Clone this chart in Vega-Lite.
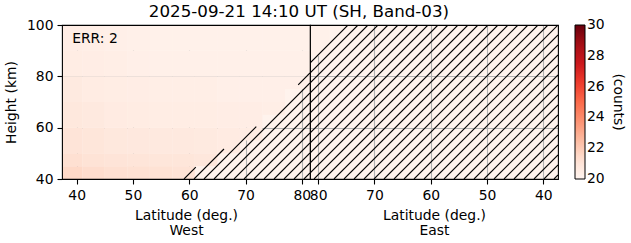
{
  "$schema": "https://vega.github.io/schema/vega-lite/v6.json",
  "padding": {"left": 3, "top": 3, "right": 12, "bottom": 0},
  "title": {"text": "2025-09-21 14:10 UT (SH, Band-03)", "fontSize": 16.7, "font": "DejaVu Sans", "fontWeight": "normal", "color": "black", "offset": -3, "anchor": "middle", "dx": -15.5},
  "datasets": {
    "cells": [
      {"side": "W", "lat1": 37, "lat2": 41, "h1": 40, "h2": 45, "v": 21.5},
      {"side": "W", "lat1": 41, "lat2": 45, "h1": 40, "h2": 45, "v": 21.35},
      {"side": "W", "lat1": 45, "lat2": 49, "h1": 40, "h2": 45, "v": 21.25},
      {"side": "W", "lat1": 49, "lat2": 53, "h1": 40, "h2": 45, "v": 21.2},
      {"side": "W", "lat1": 53, "lat2": 57, "h1": 40, "h2": 45, "v": 21.15},
      {"side": "W", "lat1": 57, "lat2": 61, "h1": 40, "h2": 45, "v": 21.1},
      {"side": "W", "lat1": 37, "lat2": 41, "h1": 45, "h2": 50, "v": 21.25},
      {"side": "W", "lat1": 41, "lat2": 45, "h1": 45, "h2": 50, "v": 21.1},
      {"side": "W", "lat1": 45, "lat2": 49, "h1": 45, "h2": 50, "v": 21.0},
      {"side": "W", "lat1": 49, "lat2": 53, "h1": 45, "h2": 50, "v": 20.95},
      {"side": "W", "lat1": 53, "lat2": 57, "h1": 45, "h2": 50, "v": 20.9},
      {"side": "W", "lat1": 57, "lat2": 61, "h1": 45, "h2": 50, "v": 20.9},
      {"side": "W", "lat1": 61, "lat2": 65, "h1": 45, "h2": 50, "v": 20.85},
      {"side": "W", "lat1": 37, "lat2": 41, "h1": 50, "h2": 60, "v": 21.0},
      {"side": "W", "lat1": 41, "lat2": 45, "h1": 50, "h2": 60, "v": 20.9},
      {"side": "W", "lat1": 45, "lat2": 49, "h1": 50, "h2": 60, "v": 20.8},
      {"side": "W", "lat1": 49, "lat2": 53, "h1": 50, "h2": 60, "v": 20.75},
      {"side": "W", "lat1": 53, "lat2": 57, "h1": 50, "h2": 60, "v": 20.7},
      {"side": "W", "lat1": 57, "lat2": 61, "h1": 50, "h2": 60, "v": 20.7},
      {"side": "W", "lat1": 61, "lat2": 65, "h1": 50, "h2": 60, "v": 20.65},
      {"side": "W", "lat1": 65, "lat2": 69, "h1": 50, "h2": 60, "v": 20.6},
      {"side": "W", "lat1": 69, "lat2": 73, "h1": 55, "h2": 60, "v": 20.55},
      {"side": "W", "lat1": 37, "lat2": 41, "h1": 60, "h2": 70, "v": 20.8},
      {"side": "W", "lat1": 41, "lat2": 45, "h1": 60, "h2": 70, "v": 20.7},
      {"side": "W", "lat1": 45, "lat2": 49, "h1": 60, "h2": 70, "v": 20.6},
      {"side": "W", "lat1": 49, "lat2": 53, "h1": 60, "h2": 70, "v": 20.55},
      {"side": "W", "lat1": 53, "lat2": 57, "h1": 60, "h2": 70, "v": 20.5},
      {"side": "W", "lat1": 57, "lat2": 61, "h1": 60, "h2": 70, "v": 20.5},
      {"side": "W", "lat1": 61, "lat2": 65, "h1": 60, "h2": 70, "v": 20.5},
      {"side": "W", "lat1": 65, "lat2": 69, "h1": 60, "h2": 70, "v": 20.45},
      {"side": "W", "lat1": 69, "lat2": 73, "h1": 60, "h2": 70, "v": 20.45},
      {"side": "W", "lat1": 73, "lat2": 77, "h1": 65, "h2": 70, "v": 20.4},
      {"side": "W", "lat1": 37, "lat2": 41, "h1": 70, "h2": 80, "v": 20.65},
      {"side": "W", "lat1": 41, "lat2": 45, "h1": 70, "h2": 80, "v": 20.55},
      {"side": "W", "lat1": 45, "lat2": 49, "h1": 70, "h2": 80, "v": 20.5},
      {"side": "W", "lat1": 49, "lat2": 53, "h1": 70, "h2": 80, "v": 20.45},
      {"side": "W", "lat1": 53, "lat2": 57, "h1": 70, "h2": 80, "v": 20.4},
      {"side": "W", "lat1": 57, "lat2": 61, "h1": 70, "h2": 80, "v": 20.4},
      {"side": "W", "lat1": 61, "lat2": 65, "h1": 70, "h2": 80, "v": 20.4},
      {"side": "W", "lat1": 65, "lat2": 69, "h1": 70, "h2": 80, "v": 20.35},
      {"side": "W", "lat1": 69, "lat2": 73, "h1": 70, "h2": 80, "v": 20.35},
      {"side": "W", "lat1": 73, "lat2": 77, "h1": 70, "h2": 80, "v": 20.35},
      {"side": "W", "lat1": 77, "lat2": 81.45, "h1": 75, "h2": 80, "v": 20.35},
      {"side": "W", "lat1": 37, "lat2": 41, "h1": 80, "h2": 90, "v": 20.5},
      {"side": "W", "lat1": 41, "lat2": 45, "h1": 80, "h2": 90, "v": 20.45},
      {"side": "W", "lat1": 45, "lat2": 49, "h1": 80, "h2": 90, "v": 20.4},
      {"side": "W", "lat1": 49, "lat2": 53, "h1": 80, "h2": 90, "v": 20.35},
      {"side": "W", "lat1": 53, "lat2": 57, "h1": 80, "h2": 90, "v": 20.3},
      {"side": "W", "lat1": 57, "lat2": 61, "h1": 80, "h2": 90, "v": 20.3},
      {"side": "W", "lat1": 61, "lat2": 65, "h1": 80, "h2": 90, "v": 20.3},
      {"side": "W", "lat1": 65, "lat2": 69, "h1": 80, "h2": 90, "v": 20.3},
      {"side": "W", "lat1": 69, "lat2": 73, "h1": 80, "h2": 90, "v": 20.3},
      {"side": "W", "lat1": 73, "lat2": 77, "h1": 80, "h2": 90, "v": 20.3},
      {"side": "W", "lat1": 77, "lat2": 81.45, "h1": 80, "h2": 90, "v": 20.3},
      {"side": "W", "lat1": 37, "lat2": 41, "h1": 90, "h2": 100, "v": 20.45},
      {"side": "W", "lat1": 41, "lat2": 45, "h1": 90, "h2": 100, "v": 20.4},
      {"side": "W", "lat1": 45, "lat2": 49, "h1": 90, "h2": 100, "v": 20.35},
      {"side": "W", "lat1": 49, "lat2": 53, "h1": 90, "h2": 100, "v": 20.3},
      {"side": "W", "lat1": 53, "lat2": 57, "h1": 90, "h2": 100, "v": 20.25},
      {"side": "W", "lat1": 57, "lat2": 61, "h1": 90, "h2": 100, "v": 20.25},
      {"side": "W", "lat1": 61, "lat2": 65, "h1": 90, "h2": 100, "v": 20.25},
      {"side": "W", "lat1": 65, "lat2": 69, "h1": 90, "h2": 100, "v": 20.25},
      {"side": "W", "lat1": 69, "lat2": 73, "h1": 90, "h2": 100, "v": 20.25},
      {"side": "W", "lat1": 73, "lat2": 77, "h1": 90, "h2": 100, "v": 20.25},
      {"side": "W", "lat1": 77, "lat2": 81.45, "h1": 90, "h2": 100, "v": 20.25},
      {"side": "E", "lat1": 81.45, "lat2": 78, "h1": 88, "h2": 100, "v": 20.25}
    ],
    "hatch": [
      {"side": "W", "lat1": 59.07, "h1": 40, "lat2": 61.17, "h2": 44.62},
      {"side": "W", "lat1": 60.85, "h1": 40, "lat2": 66.17, "h2": 51.69},
      {"side": "W", "lat1": 62.62, "h1": 40, "lat2": 71.91, "h2": 60.38},
      {"side": "W", "lat1": 79.35, "h1": 76.7, "lat2": 81.45, "h2": 81.3},
      {"side": "W", "lat1": 64.4, "h1": 40, "lat2": 81.45, "h2": 77.4},
      {"side": "W", "lat1": 66.17, "h1": 40, "lat2": 81.45, "h2": 73.51},
      {"side": "W", "lat1": 67.95, "h1": 40, "lat2": 81.45, "h2": 69.61},
      {"side": "W", "lat1": 69.73, "h1": 40, "lat2": 81.45, "h2": 65.71},
      {"side": "W", "lat1": 71.5, "h1": 40, "lat2": 81.45, "h2": 61.82},
      {"side": "W", "lat1": 73.28, "h1": 40, "lat2": 81.45, "h2": 57.92},
      {"side": "W", "lat1": 75.06, "h1": 40, "lat2": 81.45, "h2": 54.03},
      {"side": "W", "lat1": 76.83, "h1": 40, "lat2": 81.45, "h2": 50.13},
      {"side": "W", "lat1": 78.61, "h1": 40, "lat2": 81.45, "h2": 46.23},
      {"side": "W", "lat1": 80.38, "h1": 40, "lat2": 81.45, "h2": 42.34},
      {"side": "E", "lat1": 81.45, "h1": 85.19, "lat2": 74.7, "h2": 100},
      {"side": "E", "lat1": 81.45, "h1": 81.3, "lat2": 72.92, "h2": 100},
      {"side": "E", "lat1": 81.45, "h1": 77.4, "lat2": 71.15, "h2": 100},
      {"side": "E", "lat1": 81.45, "h1": 73.51, "lat2": 69.37, "h2": 100},
      {"side": "E", "lat1": 81.45, "h1": 69.61, "lat2": 67.6, "h2": 100},
      {"side": "E", "lat1": 81.45, "h1": 65.71, "lat2": 65.82, "h2": 100},
      {"side": "E", "lat1": 81.45, "h1": 61.82, "lat2": 64.04, "h2": 100},
      {"side": "E", "lat1": 81.45, "h1": 57.92, "lat2": 62.27, "h2": 100},
      {"side": "E", "lat1": 81.45, "h1": 54.03, "lat2": 60.49, "h2": 100},
      {"side": "E", "lat1": 81.45, "h1": 50.13, "lat2": 58.72, "h2": 100},
      {"side": "E", "lat1": 81.45, "h1": 46.23, "lat2": 56.94, "h2": 100},
      {"side": "E", "lat1": 81.45, "h1": 42.34, "lat2": 55.16, "h2": 100},
      {"side": "E", "lat1": 80.74, "h1": 40, "lat2": 53.39, "h2": 100},
      {"side": "E", "lat1": 78.96, "h1": 40, "lat2": 51.61, "h2": 100},
      {"side": "E", "lat1": 77.19, "h1": 40, "lat2": 49.83, "h2": 100},
      {"side": "E", "lat1": 75.41, "h1": 40, "lat2": 48.06, "h2": 100},
      {"side": "E", "lat1": 73.63, "h1": 40, "lat2": 46.28, "h2": 100},
      {"side": "E", "lat1": 71.86, "h1": 40, "lat2": 44.51, "h2": 100},
      {"side": "E", "lat1": 70.08, "h1": 40, "lat2": 42.73, "h2": 100},
      {"side": "E", "lat1": 68.31, "h1": 40, "lat2": 40.95, "h2": 100},
      {"side": "E", "lat1": 66.53, "h1": 40, "lat2": 39.18, "h2": 100},
      {"side": "E", "lat1": 64.75, "h1": 40, "lat2": 37.4, "h2": 100},
      {"side": "E", "lat1": 62.98, "h1": 40, "lat2": 37.4, "h2": 96.1},
      {"side": "E", "lat1": 61.2, "h1": 40, "lat2": 37.4, "h2": 92.21},
      {"side": "E", "lat1": 59.43, "h1": 40, "lat2": 37.4, "h2": 88.31},
      {"side": "E", "lat1": 57.65, "h1": 40, "lat2": 37.4, "h2": 84.42},
      {"side": "E", "lat1": 55.87, "h1": 40, "lat2": 37.4, "h2": 80.52},
      {"side": "E", "lat1": 54.1, "h1": 40, "lat2": 37.4, "h2": 76.62},
      {"side": "E", "lat1": 52.32, "h1": 40, "lat2": 37.4, "h2": 72.73},
      {"side": "E", "lat1": 50.54, "h1": 40, "lat2": 37.4, "h2": 68.83},
      {"side": "E", "lat1": 48.77, "h1": 40, "lat2": 37.4, "h2": 64.94},
      {"side": "E", "lat1": 46.99, "h1": 40, "lat2": 37.4, "h2": 61.04},
      {"side": "E", "lat1": 45.22, "h1": 40, "lat2": 37.4, "h2": 57.14},
      {"side": "E", "lat1": 43.44, "h1": 40, "lat2": 37.4, "h2": 53.25},
      {"side": "E", "lat1": 41.66, "h1": 40, "lat2": 37.4, "h2": 49.35},
      {"side": "E", "lat1": 39.89, "h1": 40, "lat2": 37.4, "h2": 45.45},
      {"side": "E", "lat1": 38.11, "h1": 40, "lat2": 37.4, "h2": 41.56}
    ],
    "notes": [
      {"text": "ERR: 2", "lat1": 39.2, "h1": 94.6}
    ]
  },
  "spacing": 0,
  "bounds": "flush",
  "resolve": {"scale": {"color": "shared"}, "legend": {"color": "shared"}},
  "hconcat": [
    {
      "width": 248,
      "height": 154,
      "encoding": {
        "x": {"field": "lat1", "type": "quantitative", "scale": {"domain": [37.4, 81.45], "nice": false, "zero": false},
              "axis": {"values": [40, 50, 60, 70, 80], "title": ["Latitude (deg.)", "West"], "titleLineHeight": 15}},
        "y": {"field": "h1", "type": "quantitative", "scale": {"domain": [40, 100], "nice": false, "zero": false},
              "axis": {"values": [40, 60, 80, 100], "title": "Height (km)",
                       "gridOpacity": {"condition": {"test": "datum.value == 40 || datum.value == 100", "value": 0}, "value": 1}}}
      },
      "layer": [
        {
          "data": {"name": "cells"},
          "transform": [{"filter": "datum.side === 'W'"}],
          "mark": {"type": "rect", "clip": true, "opacity": 1},
          "encoding": {
            "x2": {"field": "lat2"},
            "y2": {"field": "h2"},
            "color": {"field": "v", "type": "quantitative",
                      "scale": {"domain": [20, 30], "range": ["#fff5f0", "#fee0d2", "#fcbba1", "#fc9272", "#fb6a4a", "#ef3b2c", "#cb181d", "#a50f15", "#67000d"], "interpolate": "rgb"},
                      "legend": {"title": "(counts)", "values": [20.0005, 22, 24, 26, 28, 29.9995], "labelExpr": "format(datum.value, '.0f')"}}
          }
        },
        {
          "data": {"name": "hatch"},
          "transform": [{"filter": "datum.side === 'W'"}],
          "mark": {"type": "rule", "clip": true, "color": "black", "strokeWidth": 1.1},
          "encoding": {"x2": {"field": "lat2"}, "y2": {"field": "h2"}}
        },
        {
          "data": {"name": "notes"},
          "mark": {"type": "text", "align": "left", "baseline": "middle", "fontSize": 13.9, "font": "DejaVu Sans", "color": "black"},
          "encoding": {"text": {"field": "text"}}
        }
      ]
    },
    {
      "width": 248,
      "height": 154,
      "encoding": {
        "x": {"field": "lat1", "type": "quantitative", "scale": {"domain": [81.45, 37.4], "nice": false, "zero": false},
              "axis": {"values": [80, 70, 60, 50, 40], "title": ["Latitude (deg.)", "East"], "titleLineHeight": 15}},
        "y": {"field": "h1", "type": "quantitative", "scale": {"domain": [40, 100], "nice": false, "zero": false},
              "axis": {"values": [40, 60, 80, 100], "title": null, "labels": false, "ticks": false,
                       "gridOpacity": {"condition": {"test": "datum.value == 40 || datum.value == 100", "value": 0}, "value": 1}}}
      },
      "layer": [
        {
          "data": {"name": "cells"},
          "transform": [{"filter": "datum.side === 'E'"}],
          "mark": {"type": "rect", "clip": true, "opacity": 1},
          "encoding": {
            "x2": {"field": "lat2"},
            "y2": {"field": "h2"},
            "color": {"field": "v", "type": "quantitative",
                      "scale": {"domain": [20, 30], "range": ["#fff5f0", "#fee0d2", "#fcbba1", "#fc9272", "#fb6a4a", "#ef3b2c", "#cb181d", "#a50f15", "#67000d"], "interpolate": "rgb"},
                      "legend": {"title": "(counts)", "values": [20.0005, 22, 24, 26, 28, 29.9995], "labelExpr": "format(datum.value, '.0f')"}}
          }
        },
        {
          "data": {"name": "hatch"},
          "transform": [{"filter": "datum.side === 'E'"}],
          "mark": {"type": "rule", "clip": true, "color": "black", "strokeWidth": 1.1},
          "encoding": {"x2": {"field": "lat2"}, "y2": {"field": "h2"}}
        }
      ]
    }
  ],
  "config": {
    "font": "DejaVu Sans",
    "view": {"stroke": "black", "strokeWidth": 1.1, "fill": "#fff3ed"},
    "style": {"cell": {"strokeForeground": true}},
    "axis": {"labelFont": "DejaVu Sans", "labelFontSize": 13.9, "labelColor": "black", "titleFont": "DejaVu Sans", "titleFontSize": 13.9, "titleFontWeight": "normal", "titleColor": "black", "tickColor": "black", "tickSize": 5, "tickWidth": 1.1, "labelPadding": 4, "domain": false, "grid": true, "gridColor": "#b0b0b0", "gridWidth": 1.1, "zindex": 1, "labelFlush": false, "labelOverlap": false, "titlePadding": 7},
    "axisY": {"titlePadding": 8},
    "legend": {"gradientLength": 154, "gradientThickness": 10, "gradientStrokeColor": "black", "gradientStrokeWidth": 1, "labelFont": "DejaVu Sans", "labelFontSize": 13.9, "labelColor": "black", "labelOffset": 7, "titleFont": "DejaVu Sans", "titleFontSize": 13.9, "titleFontWeight": "normal", "titleColor": "black", "titleOrient": "right", "titleAngle": 270, "titleAnchor": "middle", "titlePadding": 6, "offset": 16, "padding": 0, "labelOverlap": false}
  }
}
